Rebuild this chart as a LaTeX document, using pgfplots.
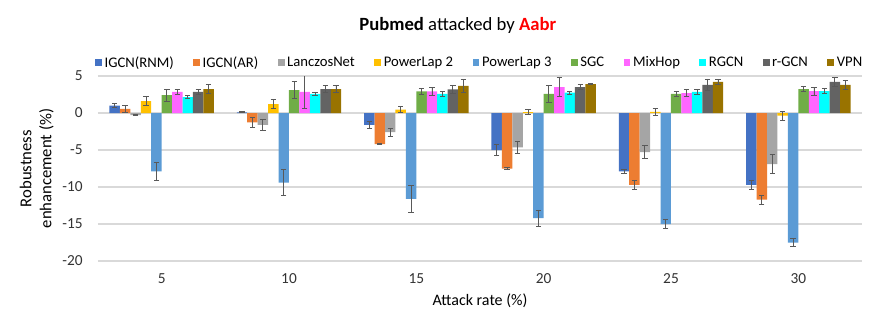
\documentclass[border=0pt]{standalone}
\usepackage{fontspec}
\setmainfont{Carlito}
\usepackage{pgfplots}
\pgfplotsset{compat=1.18}

\definecolor{cA}{HTML}{4472C4}
\definecolor{cB}{HTML}{ED7D31}
\definecolor{cC}{HTML}{A5A5A5}
\definecolor{cD}{HTML}{FFC000}
\definecolor{cE}{HTML}{5B9BD5}
\definecolor{cF}{HTML}{70AD47}
\definecolor{cG}{HTML}{FF66FF}
\definecolor{cH}{HTML}{00FFFF}
\definecolor{cI}{HTML}{636363}
\definecolor{cJ}{HTML}{997300}
\definecolor{gridc}{HTML}{D9D9D9}
\definecolor{errc}{HTML}{595959}
\definecolor{titlered}{HTML}{FF0000}

\begin{document}
\begin{tikzpicture}
\begin{axis}[
    scale only axis,
    width=573pt, height=138.75pt,
    ybar=0pt,
    bar width=0.41,
    xmin=2.5, xmax=32.5,
    ymin=-20, ymax=5,
    xtick={5,10,15,20,25,30},
    ytick={-20,-15,-10,-5,0,5},
    axis line style={draw=none},
    major tick length=0pt,
    ymajorgrids,
    grid style={gridc, line width=0.8pt},
    /pgf/number format/assume math mode=true,
    tick label style={font=\fontsize{11.5}{13}\selectfont, text=black!80},
    xticklabel style={yshift=-6pt},
    yticklabel style={xshift=-8pt},
    xlabel={Attack rate (\%)},
    xlabel style={font=\fontsize{12}{14}\selectfont, at={(axis description cs:0.5,0)}, anchor=center, yshift=-30pt},
    ylabel={Robustness\\enhancement (\%)},
    ylabel style={font=\fontsize{12.5}{15}\selectfont, align=center, at={(axis description cs:0,0.5)}, anchor=center, yshift=46pt},
    title={\textbf{Pubmed} attacked by \textcolor{titlered}{\textbf{Aabr}}},
    title style={font=\fontsize{14}{16}\selectfont, at={(axis description cs:0.471,1)}, anchor=center, yshift=32pt},
    legend columns=10,
    legend style={draw=none, fill=none, at={(axis description cs:0.5,1)}, anchor=center, yshift=10pt,
        font=\fontsize{11}{13}\selectfont,
        /tikz/every even column/.append style={column sep=12.5pt}},
    legend image code/.code={\fill[#1] (0pt,-2.6pt) rectangle (5.2pt,2.6pt);},
    error bars/y dir=both,
    error bars/y explicit,
    error bars/error bar style={errc, line width=0.6pt},
    error bars/error mark options={errc, rotate=90, mark size=2pt, line width=0.6pt},
]
% IGCN(RNM)
\addplot[fill=cA, draw=none] coordinates {
    (5,1.0) +- (0,0.27) (10,0.1) +- (0,0.05) (15,-1.6) +- (0,0.5)
    (20,-5.0) +- (0,0.7) (25,-7.9) +- (0,0.3) (30,-9.7) +- (0,0.65)};
% IGCN(AR)
\addplot[fill=cB, draw=none] coordinates {
    (5,0.55) +- (0,0.45) (10,-1.26) +- (0,0.63) (15,-4.2) +- (0,0.1)
    (20,-7.5) +- (0,0.1) (25,-9.7) +- (0,0.6) (30,-11.7) +- (0,0.63)};
% LanczosNet
\addplot[fill=cC, draw=none] coordinates {
    (5,-0.27) +- (0,0.1) (10,-1.6) +- (0,0.74) (15,-2.57) +- (0,0.54)
    (20,-4.64) +- (0,0.8) (25,-5.3) +- (0,0.9) (30,-6.9) +- (0,1.24)};
% PowerLap 2
\addplot[fill=cD, draw=none] coordinates {
    (5,1.62) +- (0,0.56) (10,1.2) +- (0,0.63) (15,0.45) +- (0,0.38)
    (20,0.12) +- (0,0.36) (25,0.15) +- (0,0.45) (30,-0.36) +- (0,0.6)};
% PowerLap 3
\addplot[fill=cE, draw=none] coordinates {
    (5,-7.9) +- (0,1.24) (10,-9.4) +- (0,1.73) (15,-11.6) +- (0,1.87)
    (20,-14.2) +- (0,1.1) (25,-15.0) +- (0,0.6) (30,-17.5) +- (0,0.56)};
% SGC
\addplot[fill=cF, draw=none] coordinates {
    (5,2.43) +- (0,0.8) (10,3.1) +- (0,1.15) (15,2.93) +- (0,0.43)
    (20,2.57) +- (0,1.2) (25,2.57) +- (0,0.36) (30,3.24) +- (0,0.34)};
% MixHop
\addplot[fill=cG, draw=none] coordinates {
    (5,2.84) +- (0,0.38) (10,2.84) +- (0,2.2) (15,2.93) +- (0,0.56)
    (20,3.5) +- (0,1.3) (25,2.7) +- (0,0.45) (30,2.97) +- (0,0.54)};
% RGCN
\addplot[fill=cH, draw=none] coordinates {
    (5,2.16) +- (0,0.25) (10,2.6) +- (0,0.25) (15,2.57) +- (0,0.3)
    (20,2.75) +- (0,0.2) (25,2.84) +- (0,0.3) (30,2.97) +- (0,0.3)};
% r-GCN
\addplot[fill=cI, draw=none] coordinates {
    (5,2.84) +- (0,0.36) (10,3.24) +- (0,0.5) (15,3.2) +- (0,0.5)
    (20,3.5) +- (0,0.36) (25,3.8) +- (0,0.8) (30,4.2) +- (0,0.63)};
% VPN
\addplot[fill=cJ, draw=none] coordinates {
    (5,3.24) +- (0,0.63) (10,3.24) +- (0,0.5) (15,3.65) +- (0,0.9)
    (20,3.9) +- (0,0.07) (25,4.2) +- (0,0.34) (30,3.8) +- (0,0.63)};
\legend{IGCN(RNM), IGCN(AR), LanczosNet, PowerLap 2, PowerLap 3, SGC, MixHop, RGCN, r-GCN, VPN}
\end{axis}
\pgfresetboundingbox
\path (-73.5pt,-51pt) rectangle (580.5pt,195.75pt);
\end{tikzpicture}
\end{document}
